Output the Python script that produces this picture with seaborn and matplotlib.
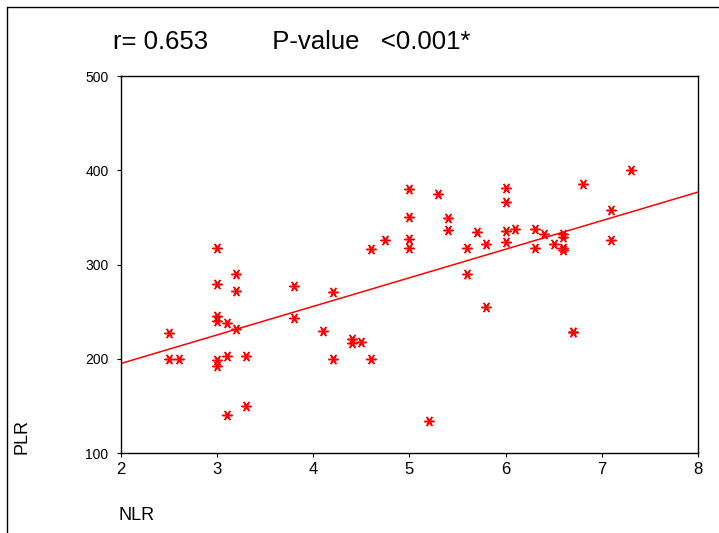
import numpy as np
import pandas as pd
import matplotlib
matplotlib.use('Agg')
import matplotlib.pyplot as plt
import seaborn as sns
from matplotlib.lines import Line2D

# valori (NLR, PLR)
nlr = [2.5, 2.5, 2.6,
       3.0, 3.0, 3.0, 3.0, 3.0, 3.0,
       3.1, 3.1, 3.1,
       3.2, 3.2, 3.2,
       3.3, 3.3,
       3.8, 3.8,
       4.1, 4.2, 4.2, 4.4, 4.4, 4.5, 4.6, 4.6, 4.75,
       5.0, 5.0, 5.0, 5.0, 5.2, 5.3, 5.4, 5.4, 5.6, 5.6, 5.7, 5.8, 5.8,
       6.0, 6.0, 6.0, 6.0, 6.1, 6.3, 6.3, 6.4, 6.5,
       6.6, 6.6, 6.6, 6.6, 6.7, 6.7, 6.8, 7.1, 7.1, 7.3]
plr = [228, 200, 200,
       318, 280, 246, 240, 199, 193,
       238, 203, 141,
       290, 272, 232,
       203, 150,
       277, 243,
       230, 271, 200, 221, 217, 218, 317, 200, 326,
       380, 350, 327, 318, 134, 375, 349, 337, 318, 290, 335, 322, 255,
       381, 366, 336, 324, 338, 338, 318, 332, 322,
       333, 329, 318, 316, 229, 229, 386, 358, 326, 400]

x_ticks = [2, 3, 4, 5, 6, 7, 8]
y_ticks = [100, 200, 300, 400, 500]
title_text = "r= 0.653         P-value   <0.001*"

df = pd.DataFrame({"NLR": nlr, "PLR": plr})

sns.set_style("ticks")
plt.rcParams['font.family'] = ['Liberation Sans', 'DejaVu Sans']
plt.rcParams['text.color'] = 'black'
plt.rcParams['xtick.color'] = 'black'
plt.rcParams['ytick.color'] = 'black'

fig = plt.figure(figsize=(7.19, 5.33), dpi=100)
ax = fig.add_axes([121 / 719, 1 - 453.3 / 533, (698 - 121) / 719, (453.3 - 76) / 533])

# limiti impostati prima, cosi' la retta arriva ai bordi
ax.set_xlim(2, 8)
ax.set_ylim(100, 500)

sns.regplot(data=df, x="NLR", y="PLR", ax=ax, ci=None, truncate=False,
            marker=(6, 2, 90), color="red",
            scatter_kws={"s": 46, "linewidths": 1.1, "alpha": 1.0},
            line_kws={"linewidth": 1.1})

ax.set_xlim(2, 8)
ax.set_ylim(100, 500)
ax.set_xticks(x_ticks)
ax.set_yticks(y_ticks)
ax.tick_params(axis='x', labelsize=12, length=3, width=0.8, pad=3)
ax.tick_params(axis='y', labelsize=10, length=3, width=0.8, pad=6)
ax.set_xlabel("")
ax.set_ylabel("")
for sp in ax.spines.values():
    sp.set_visible(True)
    sp.set_linewidth(1.0)
    sp.set_color("black")

# titolo e etichette come testo della figura
fig.text(113 / 719, 1 - 42 / 533, title_text, fontsize=18.5, va='center', ha='left')
fig.text(118 / 719, 1 - 515 / 533, "NLR", fontsize=13, va='center', ha='left')
fig.text(22 / 719, 1 - 437 / 533, "PLR", fontsize=13, va='center', ha='center', rotation=90)

# bordo della figura (solo sinistra e sopra visibili)
fig.add_artist(Line2D([7 / 719, 7 / 719], [0, 1 - 7 / 533], color='black', linewidth=1.0))
fig.add_artist(Line2D([7 / 719, 1], [1 - 7 / 533, 1 - 7 / 533], color='black', linewidth=1.0))

fig.savefig("out.png", dpi=100)
plt.close(fig)
